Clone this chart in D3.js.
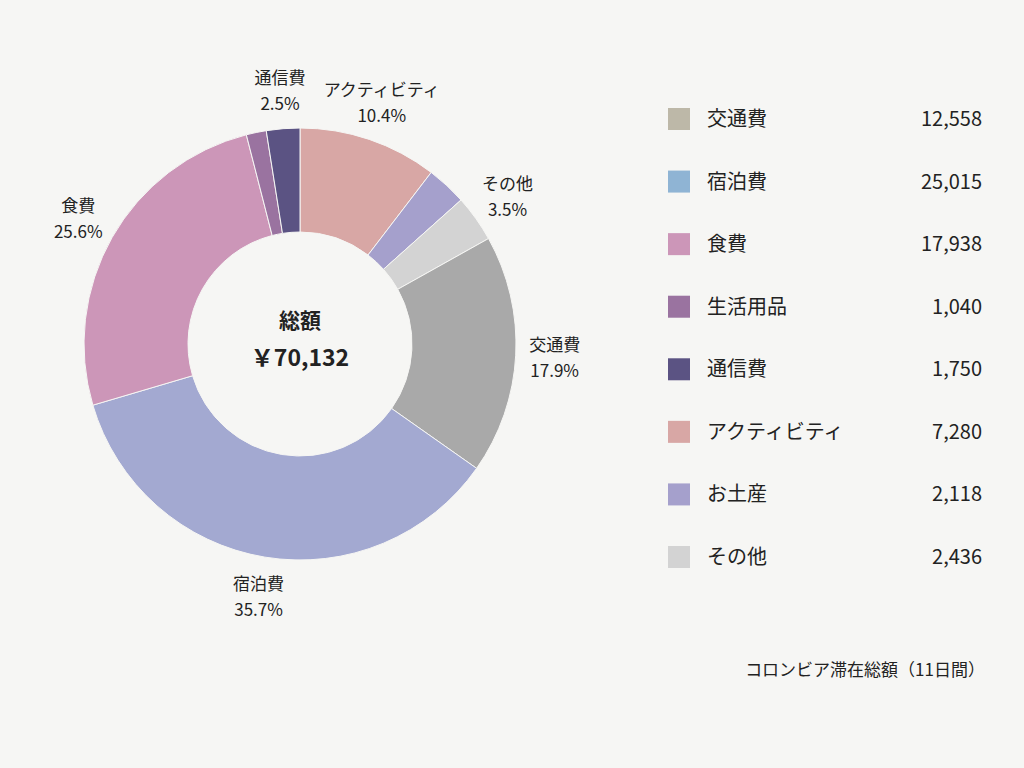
<!DOCTYPE html>
<html><head><meta charset="utf-8">
<script src="https://cdn.jsdelivr.net/npm/d3@7"></script>
<style>body{margin:0;background:#f6f6f4;font-family:"Noto Sans CJK JP","Noto Sans",sans-serif;}</style>
</head><body><svg id="c" width="1024" height="768"></svg>
<script>
const legendNames=["交通費","宿泊費","食費","生活用品","通信費","アクティビティ","お土産","その他"];
const legendValues=[12558,25015,17938,1040,1750,7280,2118,2436];
const legendColors=["#bdb8a8","#8fb4d4","#cc96b8","#9a73a0","#5b5383","#d8a7a5","#a5a0cc","#d3d3d3"];
const pieNames=["アクティビティ","お土産","その他","交通費","宿泊費","食費","生活用品","通信費"];
const piePct=[10.4,3.0,3.5,17.9,35.7,25.6,1.5,2.5];
const pieColors=["#d8a7a5","#a5a0cc","#d3d3d3","#a9a9a9","#a3a9d1","#cc96b8","#9a73a0","#5b5383"];
const labeled=["アクティビティ","その他","交通費","宿泊費","食費","通信費"];
const total="￥70,132";
const svg=d3.select("#c");
svg.append("rect").attr("width",1024).attr("height",768).attr("fill","#f6f6f4");
const g=svg.append("g").attr("transform","translate(300,344)");
const arcs=d3.pie().sort(null).value(d=>d)(piePct);
const arc=d3.arc().innerRadius(112).outerRadius(216);
g.selectAll("path").data(arcs).join("path").attr("d",arc).attr("fill",(d,i)=>pieColors[i]).attr("stroke","#f6f6f4").attr("stroke-width",1);
const la=d3.arc().innerRadius(255).outerRadius(255);
arcs.forEach((d,i)=>{
  if(!labeled.includes(pieNames[i]))return;
  const [x,y]=la.centroid(d);
  const t=g.append("text").attr("text-anchor","middle").attr("font-size",17).attr("fill","#222");
  t.append("tspan").attr("x",x).attr("y",y-6).text(pieNames[i]);
  t.append("tspan").attr("x",x).attr("y",y+20).text(piePct[i].toFixed(1)+"%");
});
g.append("text").attr("text-anchor","middle").attr("y",-16).attr("font-size",21).attr("font-weight","bold").attr("fill","#222").text("総額");
g.append("text").attr("text-anchor","middle").attr("y",22).attr("font-size",23).attr("font-weight","bold").attr("fill","#222").text(total);
const y=d3.scalePoint().domain(legendNames).range([119,557]);
const fmt=d3.format(",");
legendNames.forEach((n,i)=>{
  svg.append("rect").attr("x",668).attr("y",y(n)-11).attr("width",22).attr("height",22).attr("fill",legendColors[i]);
  svg.append("text").attr("x",707).attr("y",y(n)+7).attr("font-size",20).attr("fill","#222").text(n);
  svg.append("text").attr("x",982).attr("y",y(n)+7).attr("text-anchor","end").attr("font-size",20).attr("fill","#222").text(fmt(legendValues[i]));
});
svg.append("text").attr("x",985).attr("y",676).attr("text-anchor","end").attr("font-size",17).attr("fill","#222").text("コロンビア滞在総額（11日間）");
</script></body></html>
